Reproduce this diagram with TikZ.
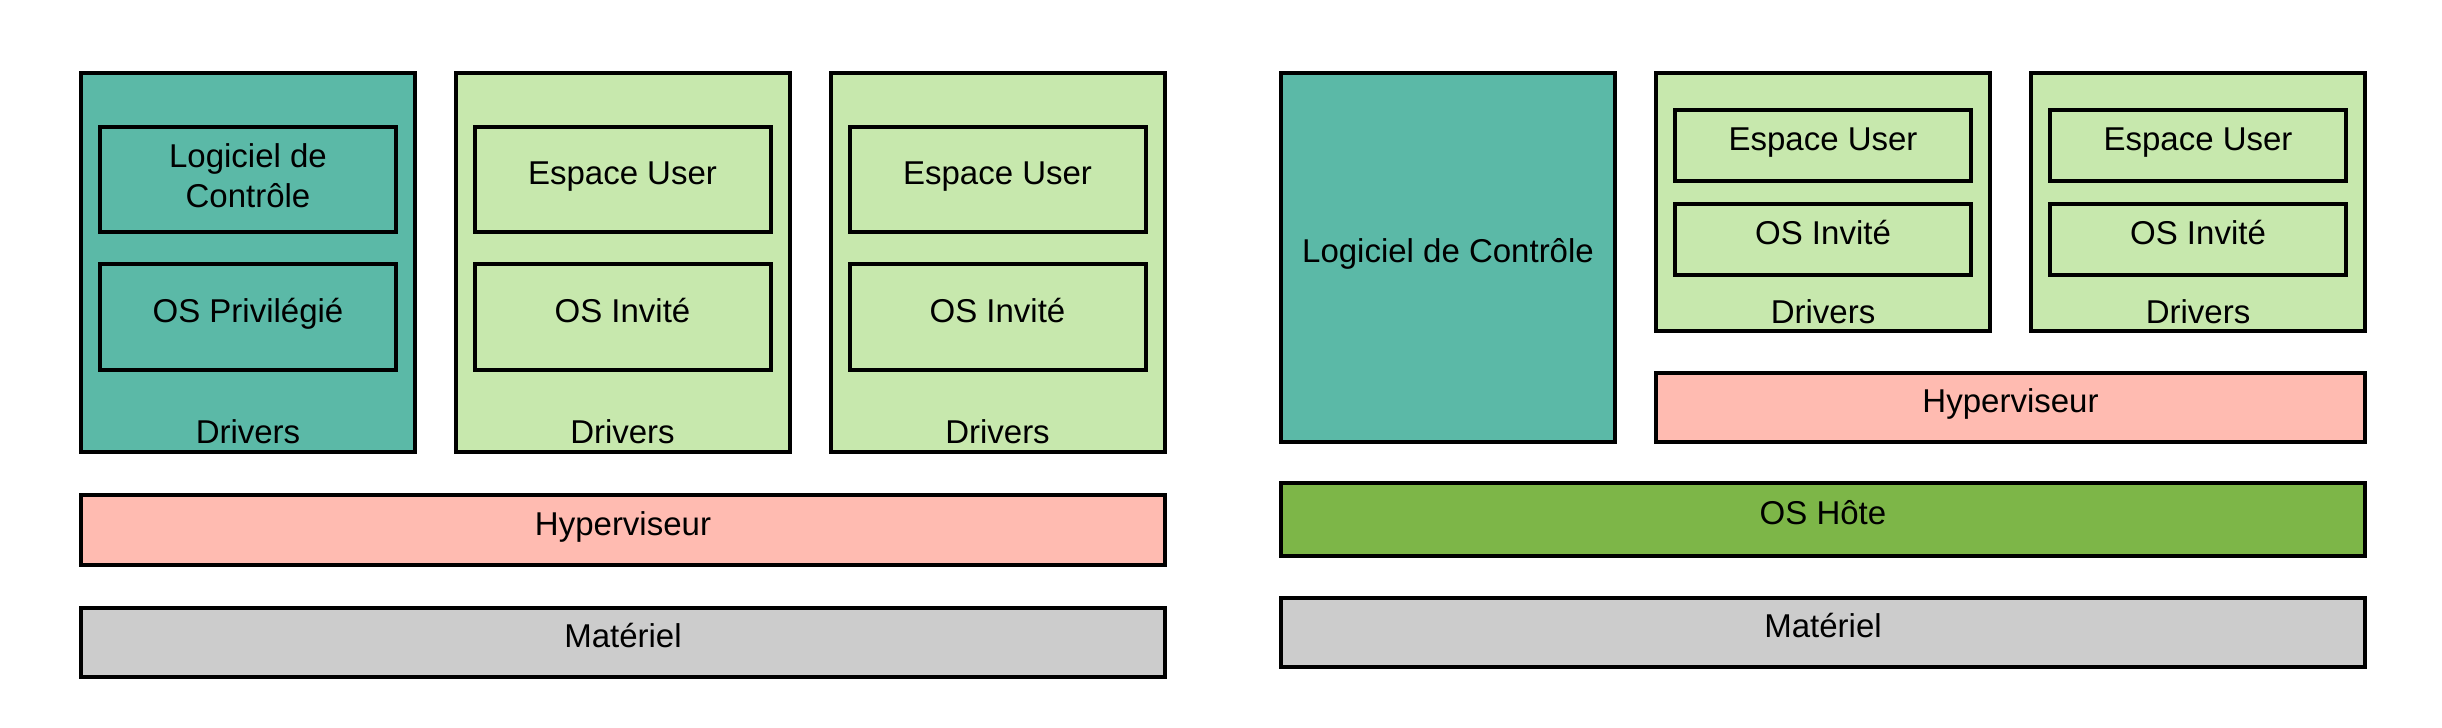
\documentclass[tikz,border=0pt]{standalone}
\usepackage{fontspec}
\setmainfont{Liberation Sans}
\definecolor{sarcelle}{HTML}{5BB9A7}
\definecolor{vertclair}{HTML}{C7E8AD}
\definecolor{rose}{HTML}{FFBBB1}
\definecolor{gris}{HTML}{CCCCCC}
\definecolor{vert}{HTML}{7DB648}

\begin{document}
\begin{tikzpicture}[x = 1pt, y = -1pt,
	couche/.style = {draw, rectangle, line width=4pt, inner sep=0pt, font=\fontsize{33}{40}\selectfont, text height=24pt, text depth=14pt},
	legende/.style = {anchor=base, inner sep=0pt, font=\fontsize{33}{40}\selectfont},]
		\useasboundingbox (0,0) rectangle (2442,728);
		
		% virtualisation a gauche
		\node[couche, fill=sarcelle, minimum width=334pt, minimum height=379pt] (A) at (248,262.5) {};
		\node[couche, fill=vertclair, minimum width=334pt, minimum height=379pt] (B) at (622.5,262.5) {};
		\node[couche, fill=vertclair, minimum width=334pt, minimum height=379pt] (C) at (997.5,262.5) {};
		\node[couche, fill=sarcelle, minimum width=296pt, minimum height=105pt, align=center, text height=64pt, text depth=9pt] (A1) at (248,179.5) {Logiciel de\\Contrôle};
		\node[couche, fill=sarcelle, minimum width=296pt, minimum height=106pt] (A2) at (248,317) {OS Privilégié};
		\node[couche, fill=vertclair, minimum width=296pt, minimum height=105pt] (B1) at (622.5,179.5) {Espace User};
		\node[couche, fill=vertclair, minimum width=296pt, minimum height=106pt] (B2) at (622.5,317) {OS Invité};
		\node[couche, fill=vertclair, minimum width=296pt, minimum height=105pt] (C1) at (997.5,179.5) {Espace User};
		\node[couche, fill=vertclair, minimum width=296pt, minimum height=106pt] (C2) at (997.5,317) {OS Invité};
		\node[legende] (Ad) at (248,443) {Drivers};
		\node[legende] (Bd) at (622.5,443) {Drivers};
		\node[legende] (Cd) at (997.5,443) {Drivers};
		\node[couche, fill=rose, minimum width=1084pt, minimum height=70pt] (HG) at (623,530) {Hyperviseur};
		\node[couche, fill=gris, minimum width=1084pt, minimum height=69pt] (MG) at (623,642.5) {Matériel};
		
		% virtualisation a droite
		\node[couche, fill=sarcelle, minimum width=334pt, minimum height=369pt] (D) at (1448,257.5) {Logiciel de Contrôle};
		\node[couche, fill=vertclair, minimum width=334pt, minimum height=258pt] (E) at (1823,202) {};
		\node[couche, fill=vertclair, minimum width=334pt, minimum height=258pt] (F) at (2198,202) {};
		\node[couche, fill=vertclair, minimum width=296pt, minimum height=71pt] (E1) at (1823,145.5) {Espace User};
		\node[couche, fill=vertclair, minimum width=296pt, minimum height=71pt] (E2) at (1823,239.5) {OS Invité};
		\node[couche, fill=vertclair, minimum width=296pt, minimum height=71pt] (F1) at (2198,145.5) {Espace User};
		\node[couche, fill=vertclair, minimum width=296pt, minimum height=71pt] (F2) at (2198,239.5) {OS Invité};
		\node[legende] (Ed) at (1823,323) {Drivers};
		\node[legende] (Fd) at (2198,323) {Drivers};
		\node[couche, fill=rose, minimum width=709pt, minimum height=69pt] (HD) at (2010.5,407.5) {Hyperviseur};
		\node[couche, fill=vert, minimum width=1084pt, minimum height=73pt] (OH) at (1823,519.5) {OS Hôte};
		\node[couche, fill=gris, minimum width=1084pt, minimum height=69pt] (MD) at (1823,632.5) {Matériel};
	\end{tikzpicture}
\end{document}
